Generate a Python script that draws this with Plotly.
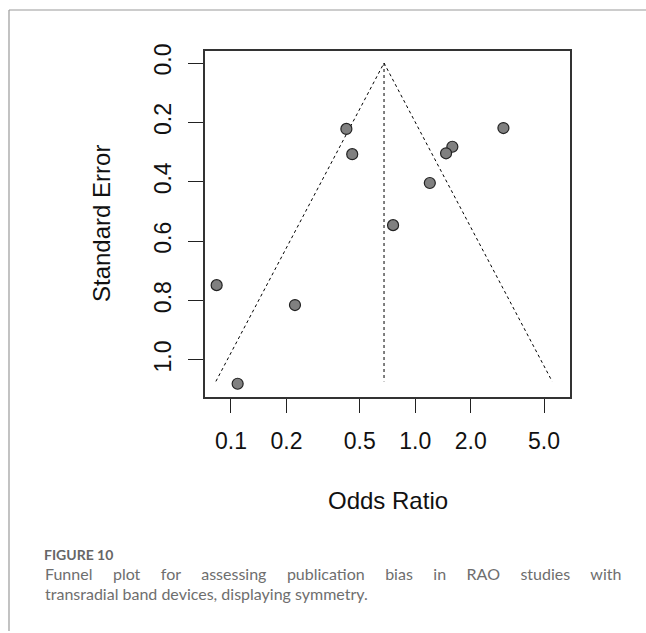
import math
import plotly.graph_objects as go

# ---- data ----
odds_ratio = [0.423, 0.455, 3.01, 1.59, 1.47, 1.20, 0.758, 0.0836, 0.2225, 0.1087]
std_error = [0.222, 0.307, 0.219, 0.282, 0.304, 0.404, 0.546, 0.748, 0.815, 1.080]
pooled_or = 0.677
funnel_se_max = 1.072
x_tick_vals = [0.1, 0.2, 0.5, 1.0, 2.0, 5.0]
x_tick_text = ["0.1", "0.2", "0.5", "1.0", "2.0", "5.0"]
y_tick_vals = [0.0, 0.2, 0.4, 0.6, 0.8, 1.0]
y_tick_text = ["0.0", "0.2", "0.4", "0.6", "0.8", "1.0"]
caption_label = "FIGURE 10"
caption_line1 = "Funnel plot for assessing publication bias in RAO studies with"
caption_line2 = "transradial band devices, displaying symmetry."

W, H = 646, 633
L, R, T, B = 205, 570, 51, 397  # plot area in pixels


def px_x(px):
    return (px - L) / (R - L)


def px_y(py):
    return (B - py) / (B - T)


ln_est = math.log(pooled_or)
funnel_x = [math.exp(ln_est - 1.96 * funnel_se_max), pooled_or,
            math.exp(ln_est + 1.96 * funnel_se_max)]
funnel_y = [funnel_se_max, 0.0, funnel_se_max]

fig = go.Figure()
fig.add_trace(go.Scatter(x=funnel_x, y=funnel_y, mode="lines",
                         line=dict(color="black", width=1, dash="dot"),
                         hoverinfo="skip", showlegend=False))
fig.add_trace(go.Scatter(x=[pooled_or, pooled_or], y=[0.0, funnel_se_max], mode="lines",
                         line=dict(color="black", width=1, dash="dot"),
                         hoverinfo="skip", showlegend=False))
fig.add_trace(go.Scatter(x=odds_ratio, y=std_error, mode="markers",
                         marker=dict(size=11, color="#808080",
                                     line=dict(color="#222222", width=1.2)),
                         showlegend=False))

axis_font = dict(family="Liberation Sans, Arial, sans-serif", size=23, color="#111111")

fig.update_layout(
    width=W, height=H,
    margin=dict(l=L, r=W - R, t=T, b=H - B, pad=0),
    paper_bgcolor="white", plot_bgcolor="white",
    showlegend=False,
    xaxis=dict(type="log", range=[-1.141, 0.840],
               tickvals=x_tick_vals, ticktext=x_tick_text,
               ticks="outside", ticklen=14, tickwidth=1.2, tickcolor="#222222",
               showline=True, mirror=True, linecolor="#333333", linewidth=1.5,
               showgrid=False, zeroline=False, tickfont=axis_font,
               ticklabelstandoff=9),
    yaxis=dict(range=[1.1246, -0.0404],
               tickvals=y_tick_vals, ticktext=y_tick_text, tickangle=-90,
               ticks="outside", ticklen=15, tickwidth=1.2, tickcolor="#222222",
               showline=True, mirror=True, linecolor="#333333", linewidth=1.5,
               showgrid=False, zeroline=False, tickfont=axis_font,
               ticklabelstandoff=8),
)

title_font = dict(family="Liberation Sans, Arial, sans-serif", size=24, color="#111111")
fig.add_annotation(text="Odds Ratio", xref="paper", yref="paper",
                   x=px_x(387.5), y=px_y(500), xanchor="center", yanchor="middle",
                   showarrow=False, font=title_font)
fig.add_annotation(text="Standard Error", xref="paper", yref="paper",
                   x=px_x(101), y=px_y(224), xanchor="center", yanchor="middle",
                   textangle=-90, showarrow=False, font=title_font)

# caption
fig.add_annotation(text="<b>" + caption_label + "</b>", xref="paper", yref="paper",
                   x=px_x(42), y=px_y(554), xanchor="left", yanchor="middle",
                   showarrow=False,
                   font=dict(family="Lato, sans-serif", size=14, color="#666666"))
gap = "\u00a0" * 5
fig.add_annotation(text=gap.join(caption_line1.split(" ")), xref="paper", yref="paper",
                   x=px_x(43), y=px_y(573), xanchor="left", yanchor="middle",
                   showarrow=False,
                   font=dict(family="Lato, sans-serif", size=16, color="#6e6e6e"))
fig.add_annotation(text=caption_line2, xref="paper", yref="paper",
                   x=px_x(43), y=px_y(593), xanchor="left", yanchor="middle",
                   showarrow=False,
                   font=dict(family="Lato, sans-serif", size=16, color="#6e6e6e"))

# outer figure frame (top and left rules)
fig.add_shape(type="line", xref="paper", yref="paper",
              x0=px_x(9), x1=px_x(W), y0=px_y(10), y1=px_y(10),
              line=dict(color="#9a9a9a", width=1.2))
fig.add_shape(type="line", xref="paper", yref="paper",
              x0=px_x(9), x1=px_x(9), y0=px_y(10), y1=px_y(631),
              line=dict(color="#9a9a9a", width=1.2))

fig.write_html("out.html")
